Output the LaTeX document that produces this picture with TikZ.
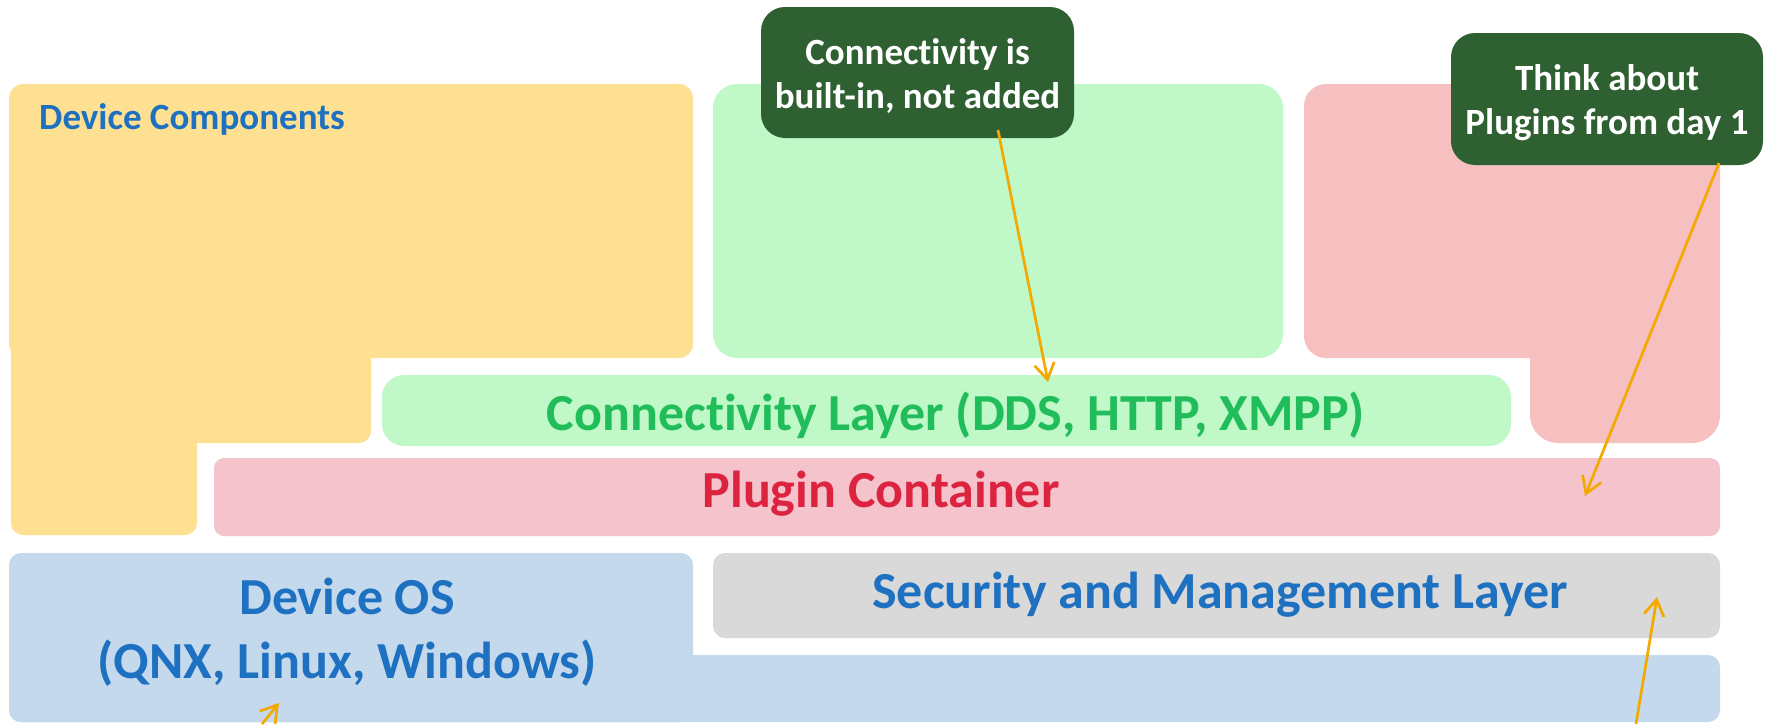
\documentclass[tikz,border=0pt]{standalone}
\usepackage{fontspec}
\setmainfont{Carlito}[Ligatures=NoCommon]
\usetikzlibrary{positioning}
\usetikzlibrary{arrows.meta}
\definecolor{compyellow}{HTML}{FDE092}
\definecolor{connlight}{HTML}{C0F8C8}
\definecolor{pluglight}{HTML}{F7C0C0}
\definecolor{contpink}{HTML}{F4C3CB}
\definecolor{oslight}{HTML}{C5D9ED}
\definecolor{mgmtgray}{HTML}{D9D9D9}
\definecolor{notegreen}{HTML}{2F6032}
\definecolor{textblue}{HTML}{1E70C1}
\definecolor{textgreen}{HTML}{20BD5A}
\definecolor{textred}{HTML}{DC2440}
\definecolor{arroworange}{HTML}{F2A900}
\tikzset{
  layer/.style={rectangle,inner sep=0pt,rounded corners=12pt},
  bigtext/.style={inner sep=0pt,align=center,font=\fontsize{52}{64}\selectfont\bfseries},
  smalltext/.style={inner sep=0pt,font=\fontsize{37}{45}\selectfont\bfseries},
  note/.style={rectangle,rounded corners=24pt,fill=notegreen,inner sep=0pt},
  notetext/.style={text=white,align=center,inner sep=0pt,
                   font=\fontsize{37}{44}\selectfont\bfseries},
  notearrow/.style={>={Straight Barb[length=16pt,width=20pt]},line width=2.7pt,
                    ->,draw=arroworange},
}
\begin{document}
\begin{tikzpicture}[x=1pt,y=-1pt]
  \useasboundingbox (0,0) rectangle (1774,724);
  % device components
  \node[layer,fill=compyellow,minimum width=684pt,minimum height=274pt,
        rounded corners=14pt] (comp) at (351,221) {};
  \fill[compyellow,rounded corners=12pt] (11,300) rectangle (371,443);
  \fill[compyellow,rounded corners=12pt] (11,400) rectangle (197,535);
  \node[smalltext,text=textblue,anchor=base west] (comptxt) at (39,129) {Device Components};

  % connectivity and plugins
  \node[layer,fill=connlight,minimum width=570pt,minimum height=274pt,
        rounded corners=24pt] (connbox) at (998,221) {};
  \node[layer,fill=pluglight,minimum width=416pt,minimum height=274pt,
        rounded corners=22pt] (plugbox) at (1512,221) {};
  \fill[pluglight,rounded corners=28pt] (1530,300) rectangle (1720,443);
  \node[layer,fill=connlight,minimum width=1129pt,minimum height=71pt,
        rounded corners=22pt] (conn) at (946.5,410.5) {};
  \node[bigtext,text=textgreen,anchor=base] (conntxt) at (956,430)
       {Connectivity Layer (DDS, HTTP, XMPP)};
  \node[layer,fill=contpink,minimum width=1506pt,minimum height=78pt,
        rounded corners=10pt] (cont) at (967,497) {};
  \node[bigtext,text=textred,anchor=base] (conttxt) at (881,507) {Plugin Container};

  % os and security
  \fill[oslight,rounded corners=12pt] (9,553) rectangle (693,722);
  \fill[oslight,rounded corners=12pt] (9,655) rectangle (1720,722);
  \node[bigtext,text=textblue] (ostxt) at (347,632) {Device OS\\(QNX, Linux, Windows)};
  \node[layer,fill=mgmtgray,minimum width=1007pt,minimum height=85pt] (mgmt) at (1216.5,595.5) {};
  \node[bigtext,text=textblue,anchor=base] (mgmttxt) at (1220,608)
       {Security and Management Layer};

  % notes
  \node[note,minimum width=313pt,minimum height=131pt] (note1) at (917.5,72.5) {};
  \node[notetext] (note1txt) at ([yshift=-4pt]note1.center)
       {Connectivity is\\built-in, not added};
  \node[note,minimum width=312pt,minimum height=132pt] (note2) at (1607,99) {};
  \node[notetext] (note2txt) at ([yshift=-4pt]note2.center)
       {Think about\\Plugins from day 1};

  % arrows
  \coordinate (tail1) at (998,130);
  \coordinate (head1) at (1048,382);
  \coordinate (tail2) at (1719,163);
  \coordinate (head2) at (1585,496);
  \coordinate (tail3) at (1636,724);
  \coordinate (head3) at (1657,597);
  \coordinate (tail4) at (262,724);
  \coordinate (head4) at (279,703);
  \draw[notearrow] (tail1) -- (head1);
  \draw[notearrow] (tail2) -- (head2);
  \draw[notearrow] (tail3) -- (head3);
  \draw[notearrow] (tail4) -- (head4);
\end{tikzpicture}
\end{document}
